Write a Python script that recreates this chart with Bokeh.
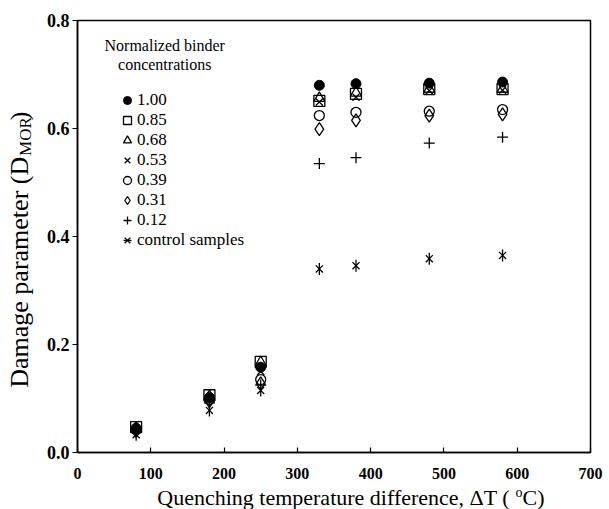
from math import pi
from bokeh.plotting import figure
from bokeh.layouts import row, column
from bokeh.models import Range1d, Legend, LegendItem, Label, FixedTicker, NumeralTickFormatter
from bokeh.embed import file_html
from bokeh.resources import INLINE

# ---- data ----
dT = [80, 180, 250, 330, 380, 480, 580]
d_100 = [0.045, 0.102, 0.158, 0.680, 0.683, 0.684, 0.686]
d_085 = [0.047, 0.106, 0.168, 0.651, 0.664, 0.673, 0.673]
d_068 = [0.046, 0.104, 0.167, 0.656, 0.666, 0.673, 0.673]
d_053 = [0.045, 0.102, 0.150, 0.649, 0.658, 0.670, 0.671]
d_039 = [0.042, 0.098, 0.135, 0.624, 0.630, 0.632, 0.635]
d_031 = [0.040, 0.095, 0.128, 0.599, 0.615, 0.624, 0.626]
d_012 = [0.040, 0.092, 0.125, 0.535, 0.546, 0.573, 0.584]
d_ctrl = [0.033, 0.078, 0.115, 0.340, 0.346, 0.359, 0.365]

x_ticks = [0, 100, 200, 300, 400, 500, 600, 700]
y_ticks = [0.0, 0.2, 0.4, 0.6, 0.8]
series_labels = ["1.00", "0.85", "0.68", "0.53", "0.39", "0.31", "0.12", "control samples"]
legend_title = ["Normalized binder", "concentrations"]

FONT = "Liberation Serif"
INK = "black"
W, H = 609, 509
YW = 36          # width of the strip holding the y-axis title
XH = 24          # height of the strip holding the x-axis title
MH = H - XH      # height of main figure

p = figure(width=W - YW, height=MH, output_backend="svg", toolbar_location=None,
           x_range=Range1d(0, 700), y_range=Range1d(0, 0.8),
           min_border_left=77 - YW, min_border_right=19, min_border_top=20,
           min_border_bottom=MH - 452)
p.xgrid.visible = False
p.ygrid.visible = False
p.outline_line_color = INK
p.outline_line_width = 1.5

for ax in (p.xaxis[0], p.yaxis[0]):
    ax.axis_line_width = 1.5
    ax.axis_line_color = INK
    ax.major_tick_line_color = INK
    ax.major_tick_line_width = 1.2
    ax.minor_tick_line_color = None
    ax.major_label_text_font = FONT
    ax.major_label_text_font_style = "bold"
    ax.major_label_text_color = INK

p.xaxis.major_label_text_font_size = "16px"
p.yaxis.major_label_text_font_size = "18px"
p.xaxis.ticker = FixedTicker(ticks=x_ticks)
p.yaxis.ticker = FixedTicker(ticks=y_ticks)
p.yaxis.formatter = NumeralTickFormatter(format="0.0")
p.xaxis.major_tick_in = 5
p.xaxis.major_tick_out = 0
p.yaxis.major_tick_in = 0
p.yaxis.major_tick_out = 5
p.xaxis.major_label_standoff = 15
p.yaxis.major_label_standoff = 3

LW = 1.3
r1 = p.scatter(dT, d_100, marker="circle", size=10, fill_color=INK, line_color=INK)
r2 = p.scatter(dT, d_085, marker="square", size=11, fill_color=None, line_color=INK, line_width=LW)
r3 = p.scatter(dT, d_068, marker="triangle", size=11, fill_color=None, line_color=INK, line_width=LW)
r4 = p.scatter(dT, d_053, marker="x", size=10, line_color=INK, line_width=LW)
r5 = p.scatter(dT, d_039, marker="circle", size=10, fill_color=None, line_color=INK, line_width=LW)
r6 = p.scatter(dT, d_031, marker="diamond", size=13, fill_color=None, line_color=INK, line_width=LW)
r7 = p.scatter(dT, d_012, marker="cross", size=11, line_color=INK, line_width=LW)
r8a = p.scatter(dT, d_ctrl, marker="x", size=10, line_color=INK, line_width=LW)
r8b = p.scatter(dT, d_ctrl, marker="dash", size=12, angle=pi / 2, line_color=INK, line_width=LW)

renderers = [[r1], [r2], [r3], [r4], [r5], [r6], [r7], [r8a, r8b]]
items = [LegendItem(label=lab, renderers=rs) for lab, rs in zip(series_labels, renderers)]
legend = Legend(items=items, location=(40, 202), padding=0, margin=0, spacing=0,
                glyph_width=20, glyph_height=20, label_height=20, label_standoff=0,
                label_text_font=FONT, label_text_font_size="17px", label_text_color=INK,
                border_line_color=None, background_fill_alpha=0)
p.add_layout(legend)

for txt, yv in zip(legend_title, (0.754, 0.719)):
    p.add_layout(Label(x=119, y=yv, text=txt, text_font=FONT, text_font_size="16px",
                       text_color=INK, text_align="center", text_baseline="middle"))

# ---- y-axis title strip (D with subscript MOR) ----
yf = figure(width=YW, height=MH, output_backend="svg", toolbar_location=None,
            x_range=Range1d(0, YW), y_range=Range1d(MH, 0), min_border=0,
            x_axis_location=None, y_axis_location=None)
yf.grid.visible = False
yf.outline_line_color = None
Y0 = 153
yf.add_layout(Label(x=19, y=Y0, text="Damage parameter (D", angle=pi / 2, text_color=INK,
                    text_font=FONT, text_font_size="26px", text_align="right", text_baseline="middle"))
yf.add_layout(Label(x=25, y=Y0 - 1, text="MOR", angle=pi / 2, text_color=INK,
                    text_font=FONT, text_font_size="17px", text_align="left", text_baseline="middle"))
yf.add_layout(Label(x=19, y=Y0 - 41, text=")", angle=pi / 2, text_color=INK,
                    text_font=FONT, text_font_size="26px", text_align="left", text_baseline="middle"))

# ---- x-axis title strip (superscript o) ----
xf = figure(width=W, height=XH, output_backend="svg", toolbar_location=None,
            x_range=Range1d(0, W), y_range=Range1d(XH, 0), min_border=0,
            x_axis_location=None, y_axis_location=None)
xf.grid.visible = False
xf.outline_line_color = None
X0 = 515
xf.add_layout(Label(x=X0, y=12, text="Quenching temperature difference, \u0394T ( ", text_color=INK,
                    text_font=FONT, text_font_size="22px", text_align="right", text_baseline="middle"))
xf.add_layout(Label(x=X0, y=7, text="o", text_font=FONT, text_font_size="14px", text_color=INK,
                    text_align="left", text_baseline="middle"))
xf.add_layout(Label(x=X0 + 7, y=12, text="C)", text_font=FONT, text_font_size="22px", text_color=INK,
                    text_align="left", text_baseline="middle"))

layout = column(row(yf, p), xf)
open("out.html", "w").write(file_html(layout, INLINE))
